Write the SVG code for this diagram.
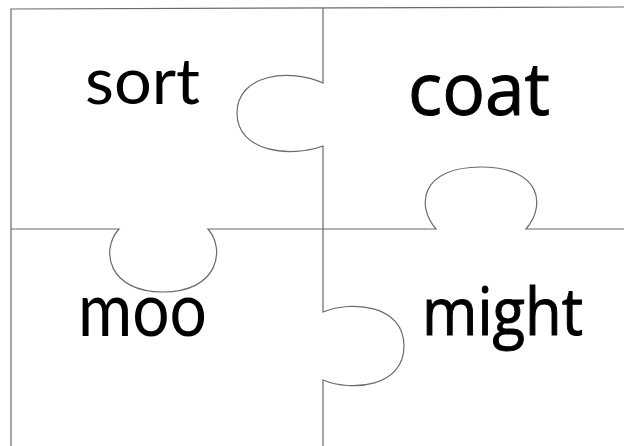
<svg xmlns="http://www.w3.org/2000/svg" width="624" height="446" viewBox="0 0 624 446">
  <style>
    .edge { fill: none; stroke: #6a6a6a; stroke-width: 1.2; }
    .cal { font-family: Lato, "Noto Sans", "Liberation Sans", sans-serif; fill: #000; }
    .com { font-family: "Comic Sans MS", "Open Sans", "Noto Sans", sans-serif; fill: #000; stroke: #000; stroke-width: 1; }
  </style>
  <rect width="624" height="446" fill="#fff"/>
  <g id="connectors">
    <path class="edge" d="M11,446 L11,9 L624,7"/>
    <path class="edge" d="M323,8 L323,83 C290,68 237,74 237,113 C237,152 290,158 323,146 L323,312 C352,300 404,305 404,346 C404,387 352,392 323,380 L323,446"/>
    <path class="edge" d="M11,229 L119,229 C100,250 108,292 163,292 C218,292 226,250 208,229 L436,229 C416,206 420,167 481,167 C542,167 546,206 526,229 L624,229"/>
  </g>
  <g id="piece-sort">
    <text class="cal" x="85" y="104" font-size="64" textLength="115" lengthAdjust="spacingAndGlyphs">sort</text>
  </g>
  <g id="piece-coat">
    <text class="com" x="408" y="115" font-size="74" textLength="142" lengthAdjust="spacingAndGlyphs">coat</text>
  </g>
  <g id="piece-moo">
    <text class="cal" x="78" y="336" font-size="76" textLength="129" lengthAdjust="spacingAndGlyphs">moo</text>
  </g>
  <g id="piece-might">
    <text class="com" x="422" y="335" font-size="66" textLength="161" lengthAdjust="spacingAndGlyphs">might</text>
  </g>
</svg>
